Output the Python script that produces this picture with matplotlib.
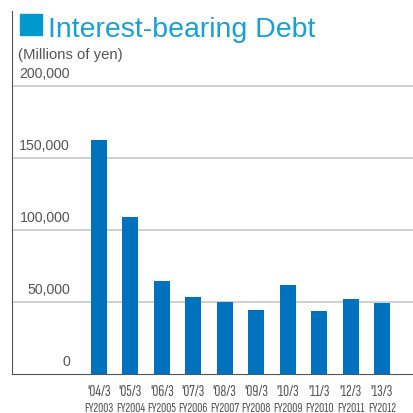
import matplotlib
matplotlib.use("Agg")
import matplotlib.pyplot as plt
from matplotlib.patches import Rectangle

# Interest-bearing debt, millions of yen
periods = ["'04/3", "'05/3", "'06/3", "'07/3", "'08/3", "'09/3", "'10/3", "'11/3", "'12/3", "'13/3"]
fiscal_years = ["FY2003", "FY2004", "FY2005", "FY2006", "FY2007", "FY2008", "FY2009", "FY2010", "FY2011", "FY2012"]
debt = [162800, 109200, 64700, 53600, 50100, 44500, 61900, 43800, 52200, 49400]
yticks = [0, 50000, 100000, 150000, 200000]

W, H = 413, 414
fig = plt.figure(figsize=(W / 100, H / 100), dpi=100)

ax_left, ax_right, ax_top, ax_bottom = 12, 413, 12, 375
ax = fig.add_axes([ax_left / W, 1 - ax_bottom / H, (ax_right - ax_left) / W, (ax_bottom - ax_top) / H])

bar_color = "#0071bc"
x = list(range(len(debt)))
ax.bar(x, debt, width=0.51, color=bar_color, zorder=3)

ax.set_xlim(-2.767, 9.987)
ax.set_ylim(0, 252500)

for v in yticks[1:]:
    ax.axhline(v, color="#c8c8c8", lw=1.2, zorder=1)
for v in yticks:
    ax.text(-0.92, v + 4500, f"{v:,}", ha="right", va="bottom", fontsize=10.2,
            color="#555555", family="Liberation Sans")

for s in ["top", "right"]:
    ax.spines[s].set_visible(False)
ax.spines["left"].set_color("#555555")
ax.spines["bottom"].set_color("#555555")
ax.set_yticks([])
ax.set_xticks([])

cond = dict(family=["Sofia Sans Extra Condensed", "Roboto Condensed", "DejaVu Sans"])
for i, (p, fy) in enumerate(zip(periods, fiscal_years)):
    ax.annotate(p, xy=(i, 0), xytext=(0, -10), textcoords="offset pixels",
                ha="center", va="top", fontsize=12, color="#555555",
                annotation_clip=False, **cond)
    ax.annotate(fy, xy=(i, 0), xytext=(0, -27), textcoords="offset pixels",
                ha="center", va="top", fontsize=10.3, color="#555555",
                annotation_clip=False, **cond)

# heading
fig.patches.append(Rectangle((20 / W, 1 - 36 / H), 22 / W, 21 / H,
                             transform=fig.transFigure, color="#0099cc"))
fig.text(48 / W, 1 - 37 / H, "Interest-bearing Debt", ha="left", va="baseline",
         fontsize=20.5, color="#1a9fd4", family="Liberation Sans")
fig.text(18 / W, 1 - 59 / H, "(Millions of yen)", ha="left", va="baseline",
         fontsize=10.7, color="#555555", family="Liberation Sans")

fig.savefig("out.png", dpi=100)
